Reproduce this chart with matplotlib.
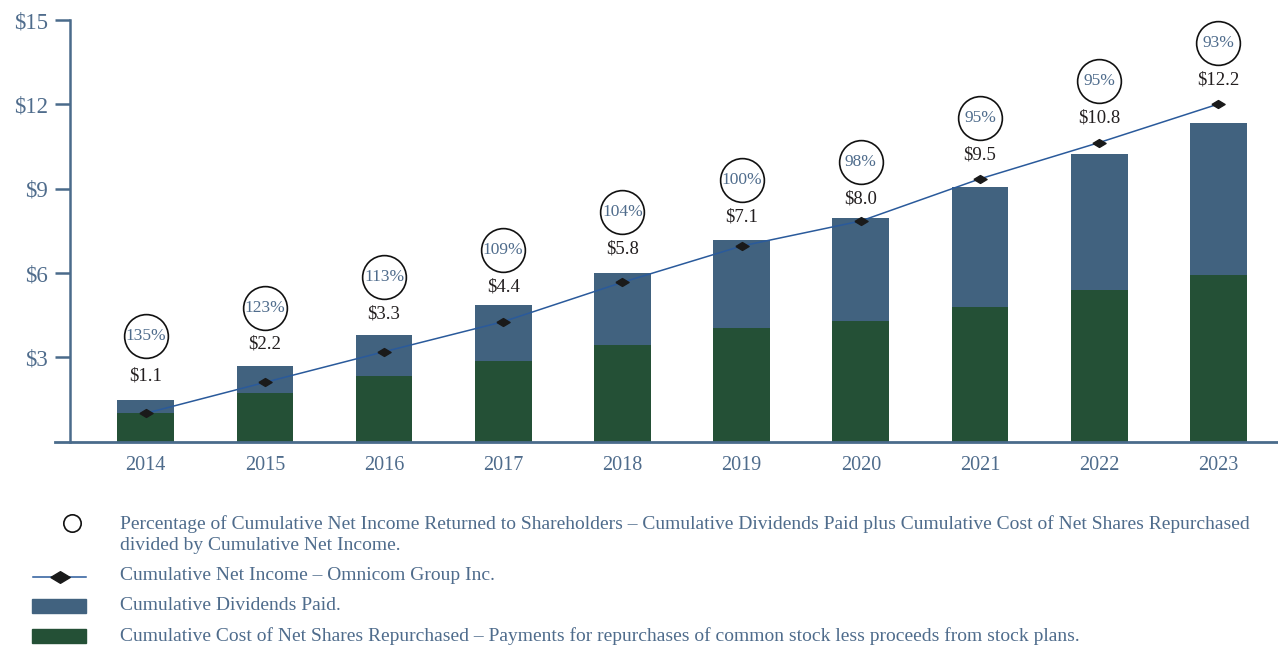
import matplotlib
matplotlib.use("Agg")
import matplotlib.pyplot as plt
from matplotlib.transforms import offset_copy
from matplotlib.patches import Rectangle
from matplotlib.lines import Line2D

# values ($ billions)
years = ["2014", "2015", "2016", "2017", "2018", "2019", "2020", "2021", "2022", "2023"]
repurchased = [1.01, 1.72, 2.34, 2.87, 3.44, 4.05, 4.29, 4.79, 5.40, 5.93]
dividends = [0.47, 0.97, 1.46, 1.99, 2.56, 3.13, 3.66, 4.27, 4.83, 5.41]
net_income = [1.01, 2.11, 3.20, 4.27, 5.67, 6.96, 7.85, 9.35, 10.64, 12.01]
net_income_labels = [1.1, 2.2, 3.3, 4.4, 5.8, 7.1, 8.0, 9.5, 10.8, 12.2]
pct_returned = [135, 123, 113, 109, 104, 100, 98, 95, 95, 93]
yticks = [3, 6, 9, 12, 15]

# layout: pixel offsets of value label / circle above each line marker
label_off = [37, 38, 38, 35, 33, 29, 22, 24, 25, 24]
circle_off = [77, 74, 75, 72, 70, 66, 59, 61, 62, 61]

blue = "#41627f"
green = "#245036"
axis_col = "#4a6b8b"
text_col = "#4f6c8c"
line_col = "#2a5a9b"
dark = "#231f20"

plt.rcParams["font.family"] = ["Liberation Serif", "DejaVu Serif"]

W, H = 1278, 648
fig = plt.figure(figsize=(W / 100, H / 100), dpi=100)
ax = fig.add_axes([55 / W, 1 - 441.7 / H, (W - 55) / W, (441.7 - 20) / H])

x = list(range(len(years)))
ax.bar(x, repurchased, width=0.476, color=green, zorder=2)
ax.bar(x, dividends, width=0.476, bottom=repurchased, color=blue, zorder=2)

diamond = [(-1, 0), (0, 0.6), (1, 0), (0, -0.6), (-1, 0)]
ax.plot(x, net_income, color=line_col, lw=1.1, zorder=3)
ax.plot(x, net_income, ls="none", marker=diamond, ms=9.5, color="#1a1a1a", zorder=4)

for i in x:
    tr = offset_copy(ax.transData, fig=fig, x=0, y=label_off[i], units="dots")
    ax.text(i, net_income[i], "$%.1f" % net_income_labels[i], transform=tr,
            ha="center", va="center", fontsize=13.5, color=dark)
    tc = offset_copy(ax.transData, fig=fig, x=0, y=circle_off[i], units="dots")
    ax.plot(i, net_income[i], marker="o", ms=31.5, mfc="white", mec="#111111",
            mew=1.2, transform=tc, clip_on=False, zorder=5)
    ax.text(i, net_income[i], "%d%%" % pct_returned[i], transform=tc,
            ha="center", va="center", fontsize=12.5, color=text_col, zorder=6)

ax.set_xlim((55 - 145.7) / 119.18, (W - 145.7) / 119.18)
ax.set_ylim(0, 15)
ax.set_xticks(x)
ax.set_xticklabels(years)
ax.set_yticks(yticks)
ax.set_yticklabels(["$%d" % v for v in yticks])
for s in ["top", "right"]:
    ax.spines[s].set_visible(False)
ax.spines["left"].set_position(("data", (70 - 145.7) / 119.18))
ax.spines["left"].set_color(axis_col)
ax.spines["left"].set_linewidth(1.8)
ax.spines["bottom"].set_color(axis_col)
ax.spines["bottom"].set_linewidth(2.0)
ax.tick_params(axis="x", length=0, pad=10, labelsize=14.5, labelcolor=text_col)
ax.tick_params(axis="y", length=10.8, width=1.8, color=axis_col, pad=5,
               labelsize=16.5, labelcolor=text_col)


# legend drawn by hand in pixel coordinates
def fx(px):
    return px / W


def fy(py):
    return 1 - py / H


fig.add_artist(Line2D([fx(72)], [fy(523)], marker="o", ms=12.5, mfc="white",
                      mec="#111111", mew=1.2))
fig.add_artist(Line2D([fx(33), fx(86)], [fy(576.5), fy(576.5)], color=line_col, lw=1.1))
fig.add_artist(Line2D([fx(59.5)], [fy(576.5)], marker=diamond, ms=14, color="#1a1a1a"))
fig.add_artist(Rectangle((fx(32), fy(613)), fx(54), 14 / H, color=blue))
fig.add_artist(Rectangle((fx(32), fy(643)), fx(54), 14 / H, color=green))

legend_rows = [
    (524, "Percentage of Cumulative Net Income Returned to Shareholders \u2013 Cumulative Dividends Paid plus Cumulative Cost of Net Shares Repurchased"),
    (546, "divided by Cumulative Net Income."),
    (576, "Cumulative Net Income \u2013 Omnicom Group Inc."),
    (606, "Cumulative Dividends Paid."),
    (636, "Cumulative Cost of Net Shares Repurchased \u2013 Payments for repurchases of common stock less proceeds from stock plans."),
]
for py, txt in legend_rows:
    fig.text(fx(120), fy(py), txt, ha="left", va="center", fontsize=14, color=text_col)

fig.savefig("out.png", dpi=100)
